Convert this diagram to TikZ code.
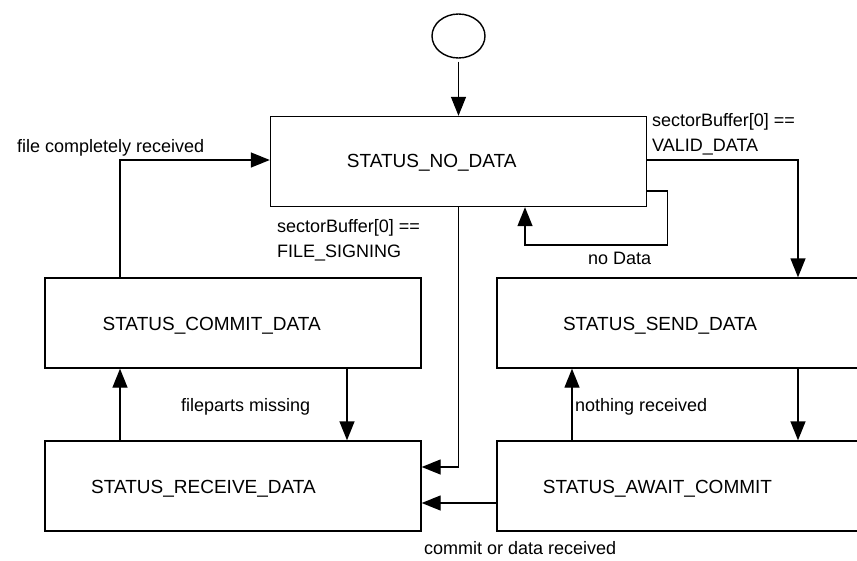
\documentclass[tikz,border=0pt]{standalone}
\usepackage{fontspec}
\setmainfont{Liberation Sans}
\usetikzlibrary{arrows.meta,shapes.geometric}
\begin{document}
\begin{tikzpicture}[x=1pt,y=-1pt,
  box/.style={draw,line width=1.4pt,minimum width=376pt,minimum height=90pt,inner sep=0pt},
  stxt/.style={font=\fontsize{19}{22}\selectfont,inner sep=0pt},
  lbl/.style={font=\fontsize{18}{25}\selectfont,inner sep=0pt,anchor=west,align=left},
  arr/.style={line width=1.4pt,-{Triangle[length=19pt,width=15pt]}}]
\clip (0,0) rectangle (857,560);
\fill[white] (0,0) rectangle (857,560);
% initial state
\node[draw,ellipse,line width=1.4pt,minimum width=53pt,minimum height=44pt,inner sep=0pt] (init) at (458.5,36) {};
% states
\node[box] (nodata) at (458.5,161.5) {};
\node[stxt] (tnodata) at (431.7,163) {STATUS\_NO\_DATA};
\node[box] (commit) at (233,323) {};
\node[stxt] (tcommit) at (211.7,325.5) {STATUS\_COMMIT\_DATA};
\node[box] (receive) at (233,486) {};
\node[stxt] (treceive) at (203.5,489) {STATUS\_RECEIVE\_DATA};
\node[box] (send) at (685,323) {};
\node[stxt] (tsend) at (660,325.5) {STATUS\_SEND\_DATA};
\node[box] (await) at (685,486) {};
\node[stxt] (tawait) at (657.5,489) {STATUS\_AWAIT\_COMMIT};
% helper coordinates
\coordinate (xA) at (120,0);
\coordinate (xB) at (347,0);
\coordinate (xC) at (572,0);
\coordinate (xD) at (798,0);
\coordinate (loopc) at (525,245);
% connectors
\draw[arr] ([yshift=-3pt]init.south) -- (nodata.north);
\draw[arr] (commit.north -| xA) |- ([yshift=1.5pt]nodata.west);
\draw[arr] (nodata.south) |- ([yshift=19pt]receive.east);
\draw[arr] ([yshift=1.5pt]nodata.east) -| (send.north -| xD);
\draw[arr] ([yshift=-29.5pt]nodata.east) -- ++(20,0) |- (loopc) -- (nodata.south -| loopc);
\draw[arr] (commit.south -| xB) -- (receive.north -| xB);
\draw[arr] (receive.north -| xA) -- (commit.south -| xA);
\draw[arr] (send.south -| xD) -- (await.north -| xD);
\draw[arr] (await.north -| xC) -- (send.south -| xC);
\draw[arr] ([yshift=-17pt]await.west) -- ([yshift=-17pt]receive.east);
% labels
\node[lbl] (l1) at (17,148) {file completely received};
\node[lbl] (l2) at (277,240.5) {sectorBuffer[0] ==\\FILE\_SIGNING};
\node[lbl] (l3) at (652,134) {sectorBuffer[0] ==\\VALID\_DATA};
\node[lbl] (l4) at (588,258) {no Data};
\node[lbl] (l5) at (181,407) {fileparts missing};
\node[lbl] (l6) at (575,407) {nothing received};
\node[lbl] (l7) at (424,548) {commit or data received};
\end{tikzpicture}
\end{document}
